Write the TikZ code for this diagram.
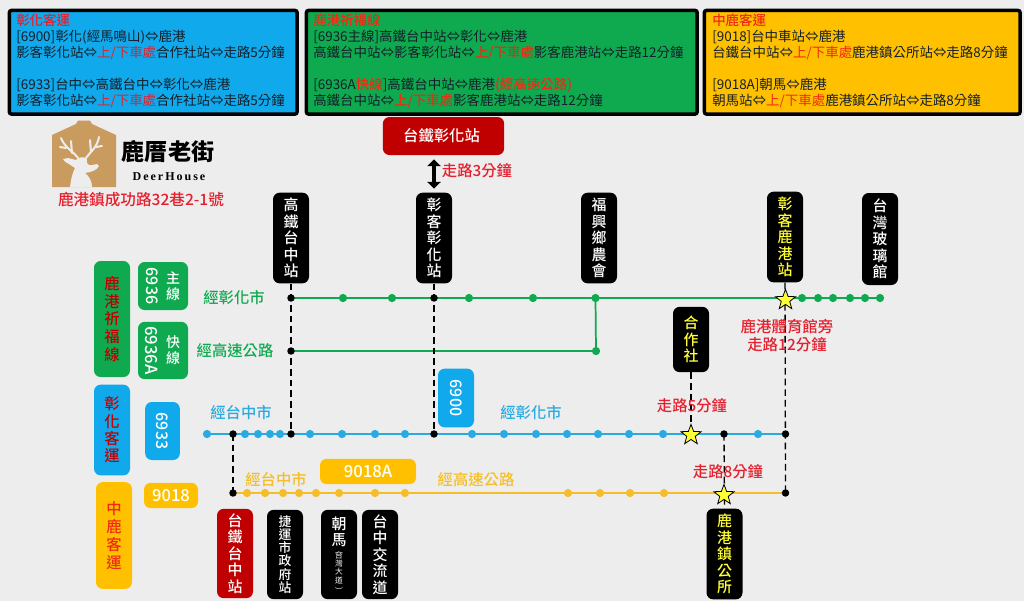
\documentclass[tikz,border=0pt]{standalone}
\usepackage{fontspec}
\setmainfont{Noto Sans CJK TC}
\newfontfamily\med{Noto Sans CJK TC Medium}
\newfontfamily\serifen{Liberation Serif}
\usetikzlibrary{shapes.geometric,backgrounds,arrows.meta}
\definecolor{bgc}{HTML}{EDEDED}
\definecolor{cblue}{HTML}{0FA9EC}
\definecolor{cgreen}{HTML}{0FAA50}
\definecolor{corange}{HTML}{FFC000}
\definecolor{cred}{HTML}{C00000}
\definecolor{tred}{HTML}{E5202E}
\definecolor{torange}{HTML}{F02A10}
\definecolor{lblue}{HTML}{29ABE2}
\definecolor{lorange}{HTML}{F5BE28}
\definecolor{yel}{HTML}{FFFF33}
\definecolor{ink}{HTML}{14202A}
\definecolor{logoc}{HTML}{C99B5F}
\newcommand{\rd}[1]{\textcolor{tred}{#1}}
\newcommand{\ro}[1]{\textcolor{torange}{#1}}
\tikzset{
 infobox/.style={draw=black,line width=2.6pt,rounded corners=1.5pt,anchor=north west,inner sep=0pt},
 infotext/.style={anchor=north west,inner sep=0pt,align=left,text=ink,font=\fontsize{10.1}{12}\selectfont},
 stn/.style={fill=black,rounded corners=5pt,inner sep=0pt,align=center,minimum width=27pt,text=white,
   font=\med\fontsize{11.2}{12.4}\selectfont},
 ystn/.style={stn,text=yel},
 rstn/.style={stn,fill=cred},
 tag/.style={rounded corners=5pt,inner sep=0pt,align=center,text=white,font=\med\fontsize{12}{13}\selectfont},
 gdot/.style={circle,fill=cgreen,minimum size=6.2pt,inner sep=0pt},
 bdot/.style={circle,fill=lblue,minimum size=6.2pt,inner sep=0pt},
 odot/.style={circle,fill=lorange,minimum size=6.2pt,inner sep=0pt},
 kdot/.style={circle,fill=black,minimum size=5.6pt,inner sep=0pt},
 stara/.style={star,star points=5,star point ratio=2.4,fill=yel,draw=black,line width=.6pt,minimum size=16pt,inner sep=0pt},
 walk/.style={dash pattern=on 5pt off 3pt,line width=1pt,black},
 gline/.style={cgreen,line width=1.3pt},
 bline/.style={lblue,line width=1.3pt},
 oline/.style={lorange,line width=1.3pt},
 lab/.style={inner sep=0pt,font=\med\fontsize{11.5}{13}\selectfont},
 rlab/.style={lab,text=tred,align=center},
 antler/.style={bgc,line width=1.5pt,line cap=round,line join=round}
}
\begin{document}
\begin{tikzpicture}[x=0.75pt,y=-0.75pt]
\useasboundingbox (0,0) rectangle (1024,601);
\begin{scope}[on background layer]
\fill[bgc] (0,0) rectangle (1024,601);
\end{scope}
% info boxes
\node[infobox,fill=cblue,minimum width=215.7pt,minimum height=77.7pt] (ibox1) at (7.7,8.7) {};
\node[infobox,fill=cgreen,minimum width=293pt,minimum height=77.7pt] (ibox2) at (304.7,8.7) {};
\node[infobox,fill=corange,minimum width=236.7pt,minimum height=77.7pt] (ibox3) at (702.7,8.7) {};
\node[infotext] (itext1) at (16,14) {\rd{\med 彰化客運}\\
{[}6900]彰化(經馬鳴山)⇔鹿港\\
影客彰化站⇔\rd{上/下車處}合作社站⇔走路5分鐘\\[12pt]
{[}6933]台中⇔高鐵台中⇔彰化⇔鹿港\\
影客彰化站⇔\rd{上/下車處}合作社站⇔走路5分鐘};
\node[infotext] (itext2) at (313,14) {\ro{\med 鹿港祈福線}\\
{[}6936主線]高鐵台中站⇔彰化⇔鹿港\\
高鐵台中站⇔影客彰化站⇔\ro{\med 上/下車處}影客鹿港站⇔走路12分鐘\\[12pt]
{[}6936A\ro{\med 快線}]高鐵台中站⇔鹿港\ro{\med (經高速公路)}\\
高鐵台中站⇔\ro{\med 上/下車處}影客鹿港站⇔走路12分鐘};
\node[infotext] (itext3) at (712,14) {\ro{\med 中鹿客運}\\
{[}9018]台中車站⇔鹿港\\
台鐵台中站⇔\ro{上/下車處}鹿港鎮公所站⇔走路8分鐘\\[12pt]
{[}9018A]朝馬⇔鹿港\\
朝馬站⇔\ro{上/下車處}鹿港鎮公所站⇔走路8分鐘};
% logo
\fill[logoc] (52,135) -- (76,124) -- (78,120.5) -- (90,120.5) -- (92,124) -- (116,135) -- (116,187) -- (52,187) -- cycle;
\fill[bgc] (70,187) .. controls (71,178) and (73,172) .. (75,168)
 -- (69,164) .. controls (66,163) and (64,161) .. (63,159) -- (68,158) -- (76,160)
 .. controls (78,157) and (84,156) .. (87,159)
 .. controls (86,163) and (88,166) .. (92,165) -- (97,164) -- (99,166)
 .. controls (97,170) and (92,172) .. (85,173) .. controls (89,176) and (92,181) .. (92,187) -- cycle;
\draw[antler] (78,158) .. controls (74,152) and (65,148) .. (61,138);
\draw[antler] (72,153) -- (71,141);
\draw[antler] (66,148) -- (60,147);
\draw[antler] (86,158) .. controls (90,152) and (97,148) .. (99,137);
\draw[antler] (91,152) -- (90,140);
\draw[antler] (96,147) -- (102,146);
\node[inner sep=0pt,font=\fontsize{17.3}{19}\bfseries\selectfont] (logot) at (168,152) {鹿厝老街};
\node[inner sep=0pt,font=\serifen\fontsize{9}{10}\bfseries\selectfont] (logoe) at (169,177) {D\,e\,e\,r\,H\,o\,u\,s\,e};
\node[rlab,font=\med\fontsize{11.7}{13}\selectfont] (addr) at (141,200) {鹿港鎮成功路32巷2-1號};
% top station
\node[rstn,minimum width=91pt,minimum height=28.5pt,font=\med\fontsize{11.5}{13}\selectfont] (trastn) at (443.5,136) {台鐵彰化站\hspace{3pt}};
\node[rlab] (w3) at (477,171) {走路3分鐘};
% stations
\node[stn,minimum height=68pt] (s1) at (291,238) {高\\鐵\\台\\中\\站};
\node[stn,minimum height=68pt] (s2) at (434,238) {彰\\客\\彰\\化\\站};
\node[stn,minimum height=68pt] (s3) at (599,238) {福\\興\\鄉\\農\\會};
\node[ystn,minimum height=68pt] (s4) at (785,237) {彰\\客\\鹿\\港\\站};
\node[stn,minimum height=69pt] (s5) at (880,239) {台\\灣\\玻\\璃\\館};
\node[ystn,minimum height=49pt] (s6) at (691,339.5) {合\\作\\社};
\node[ystn,minimum height=68pt] (s7) at (724.5,554) {鹿\\港\\鎮\\公\\所};
\node[rstn,minimum height=67pt] (s8) at (235,553.5) {台\\鐵\\台\\中\\站};
\node[stn,minimum height=67pt,font=\med\fontsize{9.6}{9.9}\selectfont] (s9) at (285,554.5) {捷\\運\\市\\政\\府\\站};
\node[stn,minimum height=67pt] (s10) at (339,554.5) {};
\node[inner sep=0pt,align=center,text=white,font=\med\fontsize{11.2}{12.4}\selectfont] (s10a) at (339,532) {朝\\馬};
\node[inner sep=0pt,align=center,text=white,font=\fontsize{5.8}{6.2}\selectfont] (s10b) at (339,571) {\rotatebox{-90}{(}\\[-3pt]台\\灣\\大\\道\\[-3pt]\rotatebox{-90}{)}};
\node[stn,minimum height=67pt] (s11) at (380,554.5) {台\\中\\交\\流\\道};
% line dots
\foreach \x in {343,392,469,533,802,818,833,850,865,880}{\node[gdot] (g\x) at (\x,298) {};}
\node[gdot] (g595) at (595.5,298) {};
\node[gdot] (gb) at (596,351) {};
\foreach \x in {207,245,258,270,280,310,342,375,405,472,504,536,567,598,629,663,758}{\node[bdot] (b\x) at (\x,434) {};}
\foreach \x in {247,265,283,299,316,339,375,405,568,600,630,664}{\node[odot] (o\x) at (\x,493) {};}
% black dots
\node[kdot] (k1) at (291,298) {};
\node[kdot] (k2) at (291,351) {};
\node[kdot] (k3) at (291,434) {};
\node[kdot] (k4) at (434,298) {};
\node[kdot] (k5) at (434,434) {};
\node[kdot] (k6) at (233,434) {};
\node[kdot] (k7) at (233,493) {};
\node[kdot] (k8) at (724,434) {};
\node[kdot] (k9) at (785.5,434) {};
\node[kdot] (k10) at (785.5,493) {};
% stars
\node[stara] (st1) at (785.5,300) {};
\node[stara] (st2) at (691,435) {};
\node[stara] (st3) at (724,495) {};
% connectors
\begin{scope}[on background layer]
\draw[gline] (k1.center) -- (g880.center);
\draw[gline] (k2.center) -- (gb.center);
\draw[gline] (g595.center) -- (gb.center);
\draw[bline] (b207.center) -- (k9.center);
\draw[oline] (k7.center) -- (k10.center);
\draw[walk] (s1.south) -- (k3.center);
\draw[walk] (s2.south) -- (k5.center);
\draw[walk] (s4.south) -- (k10.center);
\draw[walk] (s6.south) -- (st2.center);
\draw[walk] (k8.center) -- (s7.north);
\draw[walk] (k6.center) -- (k7.center);
\end{scope}
\node[inner sep=0pt,minimum width=1pt,minimum height=1pt] (ar1) at (434,158.5) {};
\node[inner sep=0pt,minimum width=1pt,minimum height=1pt] (ar2) at (434,189.5) {};
\draw[{Triangle[width=10pt,length=5pt]}-{Triangle[width=10pt,length=5pt]},line width=3pt,black] (ar1) -- (ar2);
% left tags
\node[tag,fill=cgreen,minimum width=27pt,minimum height=87pt,text=cred,font=\med\fontsize{11.5}{13.2}\selectfont] (t1) at (112,319) {鹿\\港\\祈\\福\\線};
\node[tag,fill=cgreen,minimum width=37.5pt,minimum height=36pt] (t2) at (163,286) {};
\node[inner sep=0pt,text=white,font=\med\fontsize{12}{13}\selectfont,rotate=-90] (t2a) at (152,286) {6936};
\node[inner sep=0pt,text=white,align=center,font=\med\fontsize{10.5}{12}\selectfont] (t2b) at (173,286) {主\\線};
\node[tag,fill=cgreen,minimum width=37.5pt,minimum height=43pt] (t3) at (163,350.5) {};
\node[inner sep=0pt,text=white,font=\med\fontsize{12.5}{13}\selectfont,rotate=-90] (t3a) at (152,350.5) {6936A};
\node[inner sep=0pt,text=white,align=center,font=\med\fontsize{10.5}{12}\selectfont] (t3b) at (173,350) {快\\線};
\node[tag,fill=cblue,minimum width=27pt,minimum height=68pt,text=cred,font=\med\fontsize{11.5}{13}\selectfont] (t4) at (112,430) {彰\\化\\客\\運};
\node[tag,fill=cblue,rotate=-90,minimum width=43.5pt,minimum height=26pt] (t5) at (162.5,431) {6933};
\node[tag,fill=corange,minimum width=27pt,minimum height=80pt,text=torange,font=\med\fontsize{11.5}{13.5}\selectfont] (t6) at (114,535.5) {中\\鹿\\客\\運};
\node[tag,fill=corange,minimum width=40.5pt,minimum height=19pt,font=\med\fontsize{12.4}{13}\selectfont] (t7) at (171,495.5) {9018};
\node[tag,fill=corange,minimum width=72pt,minimum height=19pt,font=\med\fontsize{12.5}{13}\selectfont] (t8) at (368,471.5) {9018A};
\node[tag,rotate=-90,fill=cblue,minimum width=44pt,minimum height=27pt] (t9) at (456,398) {6900};
% labels
\node[lab,text=cgreen] (l1) at (234,298) {經彰化市};
\node[lab,text=cgreen] (l2) at (235,351) {經高速公路};
\node[lab,text=lblue] (l3) at (241,413) {經台中市};
\node[lab,text=lblue] (l4) at (531,412.5) {經彰化市};
\node[lab,text=lorange] (l5) at (276,479.5) {經台中市};
\node[lab,text=lorange] (l6) at (476,480) {經高速公路};
\node[rlab] (r1) at (692,406) {走路5分鐘};
\node[rlab] (r2) at (728,472) {走路8分鐘};
\node[rlab,font=\med\fontsize{11.6}{13.5}\selectfont] (r3) at (787,335.5) {鹿港體育館旁\\走路12分鐘};
\end{tikzpicture}
\end{document}
